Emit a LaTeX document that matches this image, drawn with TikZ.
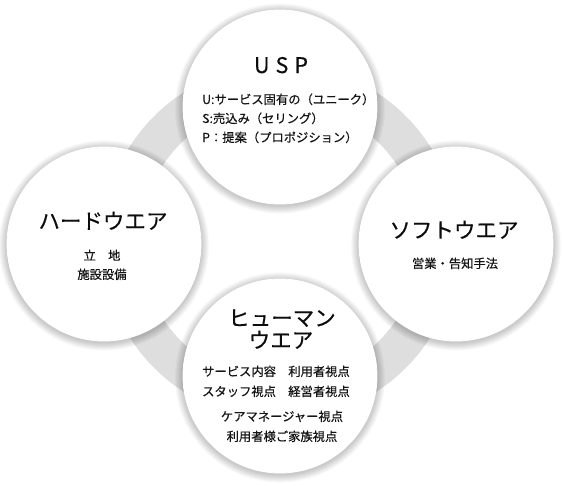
\documentclass[tikz,border=0pt]{standalone}
\usepackage{fontspec}
\setmainfont{Noto Sans CJK JP}[UprightFeatures={FakeBold=0.5}]
\newfontfamily\ttlfont{Noto Sans CJK JP}[UprightFeatures={FakeBold=0.3}]
\usetikzlibrary{calc}
\pgfdeclareradialshading{ballshade}{\pgfpoint{0bp}{0bp}}{color(0bp)=(white); color(28bp)=(white); color(43bp)=(black!3); color(49bp)=(black!8); color(50bp)=(black!9)}
\tikzset{
  ball/.style={circle, minimum size=194pt, inner sep=0pt, shading=ballshade, draw=white, line width=0.8pt},
  ttl/.style={anchor=base, text=black!95, font=\ttlfont\fontsize{21.5}{24}\selectfont},
  body/.style={anchor=base, text=black!92, font=\fontsize{12.3}{15}\selectfont, inner sep=0pt},
  bodyw/.style={body, anchor=base west},
}
\begin{document}
\begin{tikzpicture}[x=1pt,y=-1pt]
\useasboundingbox (0,0) rectangle (562,485);
\fill[white] (0,0) rectangle (562,485);
% ring
\coordinate (ringc) at (280,242);
\fill[black!13, even odd rule] (ringc) circle (178pt) (ringc) circle (140pt);
% circle centres
\coordinate (cU) at (280,107);
\coordinate (cH) at (104,244);
\coordinate (cS) at (456,244);
\coordinate (cM) at (280,376);
% shadows
\foreach \c in {cU,cH,cS,cM}{
  \foreach \i in {1,...,9}{
    \fill[black, opacity=0.025] ($(\c)+(0,1.5)$) circle ({97pt+\i*0.9pt});
  }
}
% circles
\node[ball] (usp) at (cU) {};
\node[ball] (hard) at (cH) {};
\node[ball] (soft) at (cS) {};
\node[ball] (human) at (cM) {};
% USP texts
\node[ttl, inner sep=0pt] (uspT) at (281,73) {U\kern6pt S\kern6pt P};
\node[bodyw] (uspU) at (202,104) {U:サービス固有の（ユニーク）};
\node[bodyw] (uspS) at (202,123) {S:売込み（セリング）};
\node[bodyw] (uspP) at (202,142) {P：提案（プロポジション）};
% hardware
\node[ttl, inner sep=0pt] (hardT) at (103,229) {ハードウエア};
\node[body] (hard1) at (102,260) {立　地};
\node[body] (hard2) at (102,279) {施設設備};
% software
\node[ttl, inner sep=0pt] (softT) at (454,238) {ソフトウエア};
\node[body] (soft1) at (455,268) {営業・告知手法};
% humanware
\node[ttl, inner sep=0pt] (humT1) at (282,326) {ヒューマン};
\node[ttl, inner sep=0pt] (humT2) at (281,348) {ウエア};
\node[bodyw] (hum1) at (202,376) {サービス内容　利用者視点};
\node[bodyw] (hum2) at (202,396) {スタッフ視点　経営者視点};
\node[body] (hum3) at (282,421) {ケアマネージャー視点};
\node[body] (hum4) at (282,441) {利用者様ご家族視点};
\end{tikzpicture}
\end{document}
